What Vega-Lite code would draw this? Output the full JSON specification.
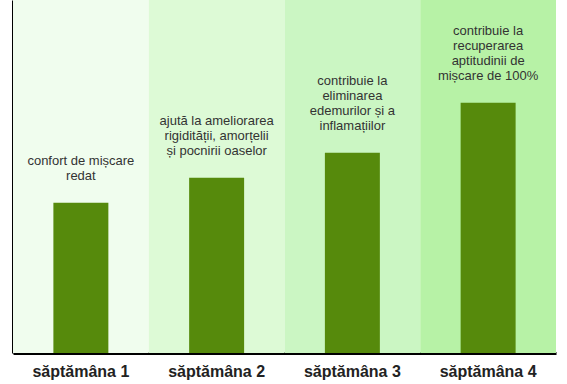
{
  "$schema": "https://vega.github.io/schema/vega-lite/v6.json",
  "width": 543,
  "height": 353,
  "autosize": {"type": "none"},
  "padding": {"left": 13, "top": 0, "right": 11, "bottom": 31},
  "background": "white",
  "config": {
    "view": {"stroke": null},
    "font": "Liberation Sans",
    "text": {"baseline": "bottom", "fontSize": 13, "color": "#333333", "font": "Liberation Sans"}
  },
  "data": {
    "values": [
      {"week": "săptămâna 1", "value": 30, "line4": "", "line3": "", "line2": "confort de mișcare", "line1": "redat"},
      {"week": "săptămâna 2", "value": 35, "line4": "", "line3": "ajută la ameliorarea", "line2": "rigidității, amorțelii", "line1": "și pocnirii oaselor"},
      {"week": "săptămâna 3", "value": 40, "line4": "contribuie la", "line3": "eliminarea", "line2": "edemurilor și a", "line1": "inflamațiilor"},
      {"week": "săptămâna 4", "value": 50, "line4": "contribuie la", "line3": "recuperarea", "line2": "aptitudinii de", "line1": "mișcare de 100%"}
    ]
  },
  "encoding": {
    "x": {
      "field": "week",
      "type": "nominal",
      "sort": null,
      "scale": {"paddingInner": 0, "paddingOuter": 0},
      "axis": {
        "title": null,
        "labelAngle": 0,
        "ticks": false,
        "domainColor": "#000000",
        "domainWidth": 3,
        "labelFont": "Liberation Sans",
        "labelFontSize": 16,
        "labelFontWeight": "bold",
        "labelColor": "#222222",
        "labelPadding": 10
      }
    }
  },
  "layer": [
    {
      "mark": {"type": "bar", "width": {"band": 1}},
      "encoding": {
        "y": {"datum": 70.5, "type": "quantitative", "scale": {"domain": [0, 70.5], "nice": false}, "axis": {"title": null, "labels": false, "ticks": false, "grid": false, "domainColor": "#000000", "domainWidth": 3}},
        "color": {
          "field": "week",
          "type": "nominal",
          "sort": null,
          "scale": {"range": ["#f0fdee", "#ddfad6", "#cbf6c3", "#b7f2a6"]},
          "legend": null
        }
      }
    },
    {
      "mark": {"type": "bar", "width": {"band": 0.405}, "color": "#568a0c"},
      "encoding": {
        "y": {"field": "value", "type": "quantitative"}
      }
    },
    {
      "mark": {"type": "text", "dy": -20},
      "encoding": {
        "y": {"field": "value", "type": "quantitative"},
        "text": {"field": "line1"}
      }
    },
    {
      "mark": {"type": "text", "dy": -35},
      "encoding": {
        "y": {"field": "value", "type": "quantitative"},
        "text": {"field": "line2"}
      }
    },
    {
      "mark": {"type": "text", "dy": -50},
      "encoding": {
        "y": {"field": "value", "type": "quantitative"},
        "text": {"field": "line3"}
      }
    },
    {
      "mark": {"type": "text", "dy": -65},
      "encoding": {
        "y": {"field": "value", "type": "quantitative"},
        "text": {"field": "line4"}
      }
    }
  ]
}
